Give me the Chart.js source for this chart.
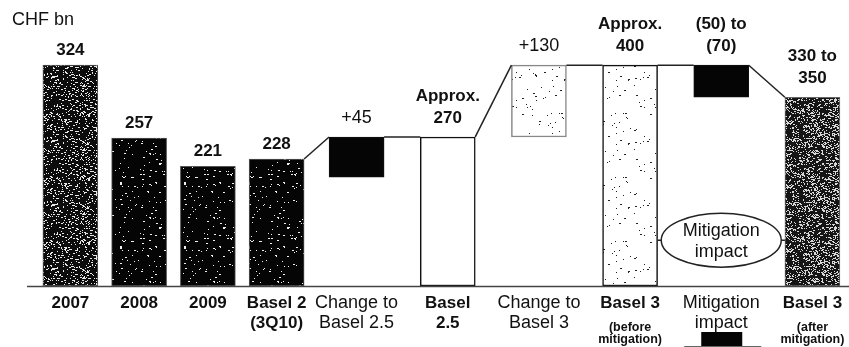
<!DOCTYPE html>
<html>
<head>
<meta charset="utf-8">
<script src="https://cdn.jsdelivr.net/npm/chart.js@4"></script>
<style>
  html, body { margin: 0; padding: 0; background: #fff; overflow: hidden; }
  canvas { display: block; }
</style>
</head>
<body>
<canvas id="chart" width="858" height="347"></canvas>
<script>
// Capital (CHF bn): history + bridge to Basel 3
// Bar heights are read off the drawing (the source art is not to scale, e.g. 2007)

const unitLabel = 'CHF bn';

const histCats = [['2007'], ['2008'], ['2009'], ['Basel 2', '(3Q10)']];
const histValues = [400, 268, 217, 230];
const histTags = [['324'], ['257'], ['221'], ['228']];

const bridgeCats = [
  ['Change to', 'Basel 2.5'],
  ['Basel', '2.5'],
  ['Change to', 'Basel 3'],
  ['Basel 3', '(before', 'mitigation)'],
  ['Mitigation', 'impact'],
  ['Basel 3', '(after', 'mitigation)']
];
const bridgeLow = [197, 0, 270, 0, 342, 0];
const bridgeHigh = [270, 270, 400, 400, 400, 342];
const bridgeTags = [['+45'], ['Approx.', '270'], ['+130'], ['Approx.', '400'], ['(50) to', '(70)'], ['330 to', '350']];
const bridgeIsStep = [true, false, true, false, true, false];

const noteLines = ['Mitigation', 'impact'];
const noteLevel = 83;

// speckled fills like the scanned original (fixed seed, texture only)
function speckle(base, dot, density, seed) {
  const c = document.createElement('canvas');
  c.width = c.height = 64;
  const g = c.getContext('2d');
  g.fillStyle = base;
  g.fillRect(0, 0, 64, 64);
  g.fillStyle = dot;
  let s = seed;
  const next = () => (s = (s * 16807) % 2147483647) / 2147483647;
  const n = Math.round(64 * 64 * density);
  for (let i = 0; i < n; i++) {
    g.fillRect(Math.floor(next() * 64), Math.floor(next() * 64), next() > 0.7 ? 2 : 1, 1);
  }
  return g.createPattern(c, 'repeat');
}

const ctx = document.getElementById('chart').getContext('2d');
const dense = speckle('#0c0c0c', '#e8e8e8', 0.14, 11);
const dark = speckle('#050505', '#f0f0f0', 0.025, 7);
const after = speckle('#151515', '#d8d8d8', 0.24, 29);
const light = speckle('#ffffff', '#222222', 0.014, 5);

const FONT = '"Liberation Sans", Arial, sans-serif';

const fixedAxis = (scale) => { scale.height = 61; };

const decorations = {
  id: 'decorations',
  afterDatasetsDraw(chart) {
    const c = chart.ctx;
    const y = chart.scales.y;
    const bars = [...chart.getDatasetMeta(0).data, ...chart.getDatasetMeta(1).data];
    const cats = [...histCats, ...bridgeCats];
    const tags = [...histTags, ...bridgeTags];
    const nHist = histValues.length;
    const edge = (b, side) => b.x + side * b.width / 2;
    const top = (b) => Math.min(b.y, b.base);

    c.save();
    // baseline
    c.strokeStyle = '#444';
    c.lineWidth = 1.5;
    c.beginPath();
    c.moveTo(27, y.getPixelForValue(0) + 0.5);
    c.lineTo(chart.width, y.getPixelForValue(0) + 0.5);
    c.stroke();

    // connectors of the bridge
    c.strokeStyle = '#222';
    c.lineWidth = 1.5;
    for (let i = nHist - 1; i < bars.length - 1; i++) {
      c.beginPath();
      c.moveTo(edge(bars[i], 1), top(bars[i]));
      c.lineTo(edge(bars[i + 1], -1), top(bars[i + 1]));
      c.stroke();
    }

    // value tags above the bars
    c.fillStyle = '#111';
    c.textAlign = 'center';
    c.textBaseline = 'middle';
    bars.forEach((b, i) => {
      const lines = tags[i];
      const plain = lines[0].startsWith('+');
      c.font = (plain ? '18px ' : 'bold 17px ') + FONT;
      const gap = i < nHist ? 15 : 19;
      lines.forEach((t, k) => {
        c.fillText(t, b.x, top(b) - gap - (lines.length - 1 - k) * 22);
      });
    });

    // category labels
    const isStep = [...histCats.map(() => false), ...bridgeIsStep];
    bars.forEach((b, i) => {
      const lines = cats[i];
      lines.forEach((t, k) => {
        let yy = 303;
        if (k > 0 && lines.length === 3) {
          c.font = 'bold 12.5px ' + FONT;
          yy = 316 + k * 12;
        } else {
          c.font = (isStep[i] ? '18px ' : 'bold 17px ') + FONT;
          yy = k === 0 ? 303 : 323;
        }
        c.fillText(t, b.x, yy);
      });
    });

    // "Mitigation impact" bubble between the two Basel 3 bars
    const m = bars[bars.length - 2];
    const cy = y.getPixelForValue(noteLevel);
    const rx = 60, ry = 27;
    c.strokeStyle = '#222';
    c.lineWidth = 1.5;
    c.beginPath();
    c.ellipse(m.x, cy, rx, ry, 0, 0, Math.PI * 2);
    c.stroke();
    c.beginPath();
    c.moveTo(edge(bars[bars.length - 3], 1), cy);
    c.lineTo(m.x - rx, cy);
    c.moveTo(m.x + rx, cy);
    c.lineTo(edge(bars[bars.length - 1], -1), cy);
    c.stroke();
    c.font = '18px ' + FONT;
    c.fillText(noteLines[0], m.x, cy - 9);
    c.fillText(noteLines[1], m.x, cy + 12);

    // cropped legend swatch at the bottom edge
    c.fillStyle = '#050505';
    c.fillRect(m.x - 20, 332, 41, 16);
    c.strokeStyle = '#666';
    c.lineWidth = 1;
    c.beginPath();
    c.moveTo(m.x - 37, 346.5);
    c.lineTo(m.x + 40, 346.5);
    c.stroke();

    // unit
    c.fillStyle = '#111';
    c.textAlign = 'left';
    c.font = '18px ' + FONT;
    c.fillText(unitLabel, 12, 20);
    c.restore();
  }
};

new Chart(ctx, {
  type: 'bar',
  data: {
    datasets: [
      {
        xAxisID: 'xHist',
        data: histValues.map(v => [0, v]),
        backgroundColor: [dense, dark, dark, dark],
        borderColor: '#555',
        borderWidth: 1,
        borderSkipped: false
      },
      {
        xAxisID: 'xBridge',
        data: bridgeLow.map((lo, i) => [lo, bridgeHigh[i]]),
        backgroundColor: ['#050505', '#ffffff', light, light, '#050505', after],
        borderColor: ['#111', '#111', '#888', '#111', '#111', '#666'],
        borderWidth: [1, 1.5, 1.5, 1.5, 1, 1],
        borderSkipped: false
      }
    ]
  },
  options: {
    responsive: false,
    devicePixelRatio: 1,
    animation: false,
    datasets: {
      bar: {
        grouped: false,
        barPercentage: 1,
        categoryPercentage: 1,
        barThickness: 55,
        maxBarThickness: 55
      }
    },
    layout: { padding: { top: 10, left: 36, right: 0, bottom: 0 } },
    plugins: { legend: { display: false }, tooltip: { enabled: false } },
    scales: {
      xHist: {
        type: 'category',
        labels: histCats.map(l => l.join(' ')),
        position: 'bottom',
        stack: 'x',
        stackWeight: 275,
        offset: true,
        grid: { display: false },
        border: { display: false },
        ticks: { display: false },
        afterFit: fixedAxis
      },
      xBridge: {
        type: 'category',
        labels: bridgeCats.map(l => l.join(' ')),
        position: 'bottom',
        stack: 'x',
        stackWeight: 547,
        offset: true,
        grid: { display: false },
        border: { display: false },
        ticks: { display: false },
        afterFit: fixedAxis
      },
      y: { display: false, min: 0, max: 500, stacked: false }
    }
  },
  plugins: [decorations]
});
</script>
</body>
</html>
